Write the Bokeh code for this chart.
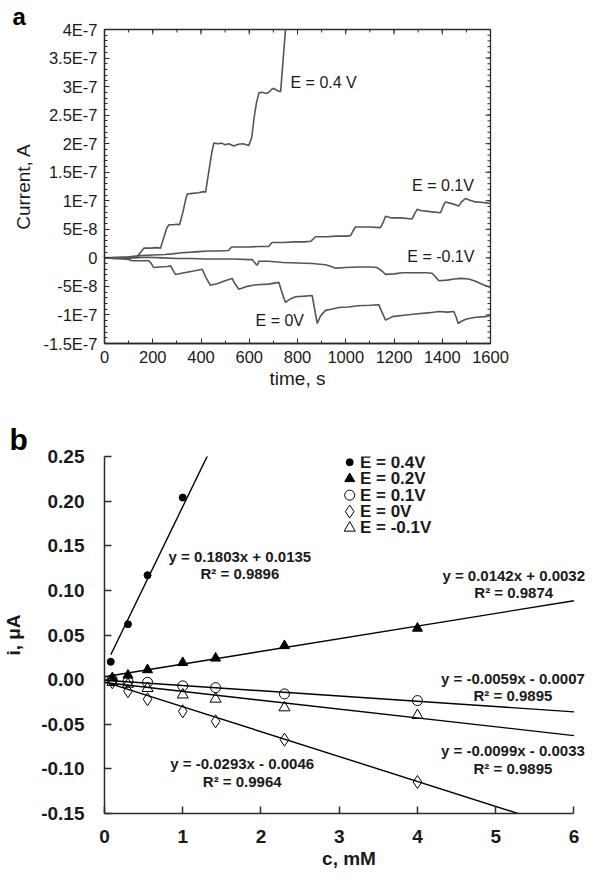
from bokeh.plotting import figure
from bokeh.models import FixedTicker, Label, Range1d
from bokeh.layouts import column
from bokeh.embed import file_html
from bokeh.resources import INLINE

# ---------------- panel a data (time in s, current in nA) ----------------
t_04 = [0, 40, 80, 120, 135, 150, 163, 190, 215, 232, 245, 258, 267, 285, 300, 311,
        325, 338, 343, 365, 390, 410, 419, 432, 445, 453, 470, 485, 500, 515, 536,
        555, 575, 598, 610, 620, 630, 640, 655, 670, 681, 692, 702, 712, 723, 730, 752]
i_04 = [0, -1, 0, 1, 2, 10, 17, 17, 18, 17, 35, 52, 58, 58, 59, 58,
        80, 105, 112, 113, 114, 116, 115, 150, 185, 201, 200, 201, 198, 200, 196,
        199, 200, 197, 210, 245, 272, 289, 290, 288, 290, 295, 297, 294, 292, 291, 410]

t_01 = [0, 50, 100, 150, 200, 250, 280, 320, 360, 391, 430, 470, 515, 522, 529, 560,
        600, 640, 681, 688, 695, 740, 790, 830, 854, 865, 875, 920, 960, 1000, 1020,
        1030, 1040, 1070, 1100, 1144, 1155, 1165, 1172, 1190, 1230, 1275, 1285, 1296,
        1310, 1350, 1393, 1403, 1413, 1440, 1469, 1480, 1496, 1515, 1538, 1570, 1600]
i_01 = [0, 1, 2, 4, 5, 6, 7, 9, 10, 11, 12, 12, 13, 17, 19, 19,
        19, 20, 20, 24, 27, 27, 28, 28, 29, 33, 37, 37, 38, 38, 39,
        47, 54, 54, 54, 53, 62, 73, 72, 70, 70, 68, 77, 85,
        83, 81, 79, 90, 98, 95, 91, 98, 104, 101, 98, 97, 95]

t_m01 = [0, 60, 120, 180, 240, 300, 360, 420, 480, 540, 600, 612, 626, 633, 640, 680,
         740, 800, 860, 916, 940, 958, 1000, 1050, 1100, 1130, 1150, 1165, 1200, 1234,
         1280, 1330, 1358, 1372, 1386, 1420, 1450, 1476, 1510, 1538, 1570, 1600]
i_m01 = [0, -1, 0, 1, 0, -1, -1, -2, -2, -2, -3, -3, -10, -13, -6, -6,
         -8, -9, -10, -12, -15, -18, -17, -16, -16, -17, -23, -29, -28, -26,
         -26, -26, -27, -33, -40, -39, -37, -36, -37, -41, -47, -52]

t_0 = [0, 50, 100, 115, 150, 184, 194, 204, 230, 260, 274, 284, 294, 330, 370, 405,
       420, 439, 470, 500, 529, 540, 557, 590, 630, 680, 723, 735, 750, 770, 792, 830,
       861, 871, 882, 895, 916, 940, 971, 1010, 1050, 1100, 1137, 1150, 1165, 1180,
       1193, 1250, 1300, 1350, 1386, 1420, 1448, 1458, 1466, 1480, 1500, 1540, 1579, 1600]
i_0 = [0, -1, -3, -5, -5, -5, -10, -17, -16, -15, -14, -22, -29, -26, -23, -20,
       -34, -48, -45, -40, -36, -45, -55, -50, -47, -46, -43, -60, -78, -72, -68, -67,
       -66, -90, -115, -102, -92, -90, -87, -86, -84, -83, -82, -95, -109, -106,
       -103, -100, -98, -96, -94, -95, -94, -104, -115, -111, -107, -104, -103, -101]

a_xticks = [0, 200, 400, 600, 800, 1000, 1200, 1400, 1600]
a_xminor = list(range(0, 1601, 100))
a_yticks = [-150, -100, -50, 0, 50, 100, 150, 200, 250, 300, 350, 400]
a_yminor = list(range(-150, 401, 10))
a_ylabels = ["-1.5E-7", "-1E-7", "-5E-8", "0", "5E-8", "1E-7", "1.5E-7", "2E-7",
             "2.5E-7", "3E-7", "3.5E-7", "4E-7"]

# ---------------- panel b data (c in mM, i in uA) ----------------
c_all = [0.1, 0.3, 0.55, 1.0, 1.42, 2.3, 4.0]
c_04 = [0.08, 0.3, 0.55, 1.0]
i_b04 = [0.020, 0.062, 0.117, 0.204]
i_b02 = [0.002, 0.005, 0.011, 0.019, 0.024, 0.038, 0.0575]
i_b01 = [0.000, -0.002, -0.003, -0.007, -0.009, -0.016, -0.0235]
i_b0 = [-0.003, -0.013, -0.022, -0.0355, -0.0467, -0.0673, -0.1147]
i_bm01 = [-0.003, -0.005, -0.0097, -0.017, -0.0217, -0.0314, -0.040]

series_names = ["E = 0.4V", "E = 0.2V", "E = 0.1V", "E = 0V", "E = -0.1V"]
fit_slope = [0.1803, 0.0142, -0.0059, -0.0279, -0.0099]
fit_icpt = [0.0135, 0.0032, -0.0007, -0.0025, -0.0033]
fit_xmin = [0.08, 0.0, 0.0, 0.0, 0.0]
fit_xmax = [1.32, 6.0, 6.0, 5.4, 6.0]
eq_texts = ["y = 0.1803x + 0.0135", "y = 0.0142x + 0.0032", "y = -0.0059x - 0.0007",
            "y = -0.0293x - 0.0046", "y = -0.0099x - 0.0033"]
r2_texts = ["R² = 0.9896", "R² = 0.9874", "R² = 0.9895", "R² = 0.9964", "R² = 0.9895"]
b_xticks = [0, 1, 2, 3, 4, 5, 6]
b_yticks = [-0.15, -0.10, -0.05, 0.0, 0.05, 0.10, 0.15, 0.20, 0.25]
b_ylabels = ["-0.15", "-0.10", "-0.05", "0.00", "0.05", "0.10", "0.15", "0.20", "0.25"]

FONT = "Liberation Sans"
AX = "#2b2b2b"
TXT = "#1a1a1a"

# ================= panel a =================
A_FW, A_FH = 386, 314
A_X0, A_X1, A_Y0, A_Y1 = 0, 1600, -150, 400
p1 = figure(frame_width=A_FW, frame_height=A_FH, x_range=Range1d(A_X0, A_X1),
            y_range=Range1d(A_Y0, A_Y1), output_backend="svg", toolbar_location=None,
            min_border_left=92, min_border_right=106, min_border_top=27,
            min_border_bottom=69)
p1.grid.visible = False
p1.outline_line_color = AX
p1.outline_line_width = 1.3
p1.title.text = "a"
p1.title.text_font = FONT
p1.title.text_font_size = "24px"
p1.title.text_font_style = "bold"
p1.title.text_color = "black"
p1.title.align = "left"
p1.title.offset = -92
p1.title.standoff = 0

p1.xaxis.ticker = FixedTicker(ticks=a_xticks, minor_ticks=a_xminor)
p1.yaxis.ticker = FixedTicker(ticks=a_yticks, minor_ticks=a_yminor)
p1.yaxis.major_label_overrides = {v: s for v, s in zip(a_yticks, a_ylabels)}
for ax in (p1.xaxis[0], p1.yaxis[0]):
    ax.axis_line_color = AX
    ax.axis_line_width = 1.3
    ax.major_tick_line_color = AX
    ax.minor_tick_line_color = AX
    ax.major_tick_in = 5
    ax.major_tick_out = 0
    ax.minor_tick_in = 3
    ax.minor_tick_out = 0
    ax.major_label_text_font = FONT
    ax.major_label_text_font_size = "16.5px"
    ax.major_label_text_color = TXT
    ax.axis_label_text_font = FONT
    ax.axis_label_text_font_size = "19px"
    ax.axis_label_text_font_style = "normal"
    ax.axis_label_text_color = TXT
p1.xaxis.axis_label = "time, s"
p1.yaxis.axis_label = "Current, A"
p1.xaxis.major_label_standoff = 7
p1.yaxis.major_label_standoff = 7
p1.xaxis.axis_label_standoff = 2
p1.yaxis.axis_label_standoff = 6

# inward tick marks on the top and right frame edges
dx = (A_X1 - A_X0) / A_FW   # data units per pixel
dy = (A_Y1 - A_Y0) / A_FH
for ticks, ln in ((a_xticks, 5), (a_xminor, 3)):
    p1.segment(x0=ticks, y0=[A_Y1] * len(ticks), x1=ticks,
               y1=[A_Y1 - ln * dy] * len(ticks), line_color=AX, line_width=1)
for ticks, ln in ((a_yticks, 5), (a_yminor, 3)):
    p1.segment(x0=[A_X1] * len(ticks), y0=ticks, x1=[A_X1 - ln * dx] * len(ticks),
               y1=ticks, line_color=AX, line_width=1)

for tt, ii in ((t_04, i_04), (t_01, i_01), (t_m01, i_m01), (t_0, i_0)):
    p1.line(tt, ii, line_color="#555555", line_width=1.6)

for x, y, txt in ((771, 307, "E = 0.4 V"), (1275, 127, "E = 0.1V"),
                  (1255, 2, "E = -0.1V"), (626, -109, "E = 0V")):
    p1.add_layout(Label(x=x, y=y, text=txt, text_font=FONT, text_font_size="16px",
                        text_baseline="middle", text_color=TXT))

# ================= panel b =================
B_X1 = 6.25
p2 = figure(frame_width=489, frame_height=357, x_range=Range1d(0, B_X1),
            y_range=Range1d(-0.15, 0.25), output_backend="svg", toolbar_location=None,
            min_border_left=95, min_border_right=0, min_border_top=44,
            min_border_bottom=58)
p2.grid.visible = False
p2.outline_line_color = None
p2.title.text = "b"
p2.title.text_font = FONT
p2.title.text_font_size = "30px"
p2.title.text_font_style = "bold"
p2.title.text_color = "black"
p2.title.align = "left"
p2.title.offset = -95
p2.title.standoff = 2

p2.xaxis.ticker = FixedTicker(ticks=b_xticks)
p2.xaxis.bounds = (0, 6)
p2.yaxis.ticker = FixedTicker(ticks=b_yticks)
p2.yaxis.major_label_overrides = {v: s for v, s in zip(b_yticks, b_ylabels)}
for ax in (p2.xaxis[0], p2.yaxis[0]):
    ax.axis_line_color = AX
    ax.axis_line_width = 1.5
    ax.major_tick_line_color = AX
    ax.major_tick_line_width = 1.5
    ax.major_tick_in = 7
    ax.major_tick_out = 0
    ax.minor_tick_line_color = None
    ax.major_label_text_font = FONT
    ax.major_label_text_font_size = "19px"
    ax.major_label_text_font_style = "bold"
    ax.major_label_text_color = TXT
    ax.axis_label_text_font = FONT
    ax.axis_label_text_font_size = "19px"
    ax.axis_label_text_font_style = "bold"
    ax.axis_label_text_color = TXT
p2.xaxis.axis_label = "c, mM"
p2.yaxis.axis_label = "i, μA"
p2.xaxis.major_label_standoff = 16
p2.yaxis.major_label_standoff = 20
p2.xaxis.axis_label_standoff = 2
p2.yaxis.axis_label_standoff = 14

# fitted lines
for m, b, x0, x1 in zip(fit_slope, fit_icpt, fit_xmin, fit_xmax):
    p2.line([x0, x1], [m * x0 + b, m * x1 + b], line_color="black", line_width=1.4)

styles = [dict(marker="circle", size=7, fill_color="black", line_color="black"),
          dict(marker="triangle", size=10, fill_color="black", line_color="black"),
          dict(marker="circle", size=10, fill_alpha=0, line_color="black", line_width=1),
          dict(marker="diamond", size=13, fill_alpha=0, line_color="black", line_width=1),
          dict(marker="triangle", size=11, fill_alpha=0, line_color="black", line_width=1)]
series = [(c_04, i_b04), (c_all, i_b02), (c_all, i_b01), (c_all, i_b0), (c_all, i_bm01)]
for (cx, iy), st in zip(series, styles):
    p2.scatter(cx, iy, **st)

# legend (drawn inside the frame)
leg_x, leg_tx, leg_y0, leg_dy = 3.134, 3.265, 0.2435, 0.0184
for k, (name, st) in enumerate(zip(series_names, styles)):
    yy = leg_y0 - k * leg_dy
    p2.scatter([leg_x], [yy], **st)
    p2.add_layout(Label(x=leg_tx, y=yy, text=name, text_font=FONT, text_font_size="17px",
                        text_font_style="bold", text_baseline="middle", text_color=TXT))

eq_pos = [(1.73, 0.138, 0.119), (5.23, 0.117, 0.098), (5.22, 0.001, -0.0176),
          (1.76, -0.094, -0.114), (5.22, -0.0792, -0.0997)]
for (x, y1, y2), e, r in zip(eq_pos, eq_texts, r2_texts):
    for yy, txt in ((y1, e), (y2, r)):
        p2.add_layout(Label(x=x, y=yy, text=txt, text_font=FONT, text_font_size="15px",
                            text_font_style="bold", text_align="center",
                            text_baseline="middle", text_color=TXT))

layout = column(p1, p2, spacing=0)
open("out.html", "w").write(file_html(layout, INLINE))
